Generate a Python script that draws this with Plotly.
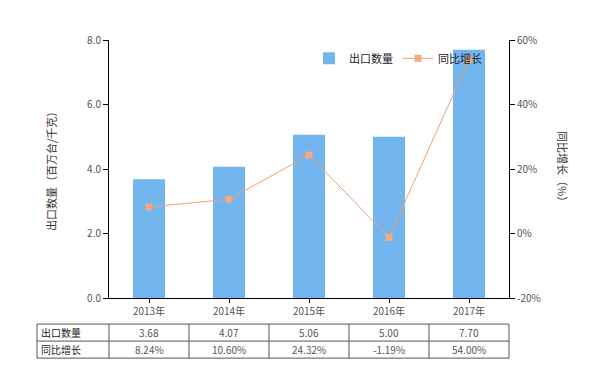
import plotly.graph_objects as go

years = ["2013年", "2014年", "2015年", "2016年", "2017年"]
export_qty = [3.68, 4.07, 5.06, 5.00, 7.70]
yoy_growth = [8.24, 10.60, 24.32, -1.19, 54.00]
qty_labels = ["3.68", "4.07", "5.06", "5.00", "7.70"]
growth_labels = ["8.24%", "10.60%", "24.32%", "-1.19%", "54.00%"]
left_ticks = [0, 2, 4, 6, 8]
right_ticks = [-20, 0, 20, 40, 60]
right_tick_text = ["-20%", "0%", "20%", "40%", "60%"]

FONT = "Noto Sans CJK SC"
BAR_COLOR = "#73b5ee"
LINE_COLOR = "#f0a070"

fig = go.Figure()
fig.add_trace(go.Bar(
    x=years, y=export_qty, name="出口数量", width=0.4,
    marker=dict(color=BAR_COLOR, line=dict(width=0)),
    yaxis="y",
))
fig.add_trace(go.Scatter(
    x=years, y=yoy_growth, name="同比增长", mode="lines+markers",
    line=dict(color=LINE_COLOR, width=1),
    marker=dict(symbol="square", size=7, color="#f2a882"),
    yaxis="y2",
))

axis_font = dict(family=FONT, size=10, color="#555")
fig.update_layout(
    width=605, height=375,
    margin=dict(l=101, r=104, t=32, b=85),
    paper_bgcolor="white", plot_bgcolor="white",
    font=dict(family=FONT, size=10, color="#333"),
    xaxis=dict(
        showline=True, linecolor="black", linewidth=1,
        ticks="outside", ticklen=4, tickcolor="black",
        tickfont=axis_font, showgrid=False, zeroline=False,
    ),
    yaxis=dict(
        range=[0, 8], tickvals=left_ticks, tickformat=".1f",
        showline=True, linecolor="black", linewidth=1,
        ticks="outside", ticklen=5, tickcolor="black",
        tickfont=axis_font, showgrid=False, zeroline=False,
    ),
    yaxis2=dict(
        range=[-20, 60], tickvals=right_ticks, ticktext=right_tick_text,
        overlaying="y", side="right",
        showline=True, linecolor="black", linewidth=1,
        ticks="outside", ticklen=5, tickcolor="black",
        tickfont=axis_font, showgrid=False, zeroline=False,
    ),
    legend=dict(
        orientation="h", x=0.5, y=0.985, xanchor="left", yanchor="top",
        font=dict(family=FONT, size=11, color="#222"),
        bgcolor="rgba(0,0,0,0)", itemwidth=30,
    ),
    showlegend=True,
)

# axis titles
fig.add_annotation(text="出口数量（百万台/千克）", textangle=-90,
                   xref="paper", yref="paper", x=-0.17, y=0.5,
                   showarrow=False, font=dict(family=FONT, size=11, color="#333"))
fig.add_annotation(text="同比增长（%）", textangle=90,
                   xref="paper", yref="paper", x=1.16, y=0.5,
                   showarrow=False, font=dict(family=FONT, size=11, color="#333"))

# data table below the chart
x_left = -0.18
row_tops = [-0.101, -0.167, -0.233]
tcol = "#555"
for yy in row_tops:
    fig.add_shape(type="line", xref="paper", yref="paper",
                  x0=x_left, x1=1.0, y0=yy, y1=yy, line=dict(color=tcol, width=1))
for xx in [x_left, 0.0, 0.2, 0.4, 0.6, 0.8, 1.0]:
    fig.add_shape(type="line", xref="paper", yref="paper",
                  x0=xx, x1=xx, y0=row_tops[0], y1=row_tops[2], line=dict(color=tcol, width=1))

row_mid = [(row_tops[0] + row_tops[1]) / 2, (row_tops[1] + row_tops[2]) / 2]
for label, ym in zip(["出口数量", "同比增长"], row_mid):
    fig.add_annotation(text=label, xref="paper", yref="paper", x=x_left + 0.005, y=ym,
                       xanchor="left", yanchor="middle", showarrow=False,
                       font=dict(family=FONT, size=10, color="#222"))
for cat, q, g in zip(years, qty_labels, growth_labels):
    fig.add_annotation(text=q, xref="x", yref="paper", x=cat, y=row_mid[0],
                       yanchor="middle", showarrow=False,
                       font=dict(family=FONT, size=10, color="#555"))
    fig.add_annotation(text=g, xref="x", yref="paper", x=cat, y=row_mid[1],
                       yanchor="middle", showarrow=False,
                       font=dict(family=FONT, size=10, color="#555"))

fig.write_html("out.html")
